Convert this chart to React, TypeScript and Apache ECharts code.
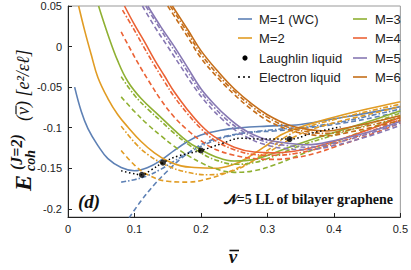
import React, { useEffect, useRef } from "react";
import * as echarts from "echarts";

// ---- data ----
const xTicks = ["0", "0.1", "0.2", "0.3", "0.4", "0.5"];
const yTicks = ["0.05", "0", "-0.05", "-0.1", "-0.15", "-0.2"];

const M1_solid = [[0.01,-0.05],[0.02,-0.08],[0.03,-0.101],[0.045,-0.122],[0.06,-0.138],[0.08,-0.149],[0.1,-0.153],[0.12,-0.149],[0.14,-0.14],[0.16,-0.128],[0.18,-0.117],[0.2,-0.109],[0.23,-0.103],[0.26,-0.1],[0.3,-0.098],[0.35,-0.096],[0.4,-0.089],[0.45,-0.082],[0.5,-0.074]];
const M1_dashdot = [[0.08,-0.167],[0.1,-0.164],[0.12,-0.159],[0.14,-0.151],[0.16,-0.141],[0.19,-0.127],[0.22,-0.116],[0.25,-0.109],[0.29,-0.104],[0.33,-0.101],[0.37,-0.098],[0.41,-0.093],[0.45,-0.086],[0.5,-0.077]];
const M1_dashed = [[0.092,-0.211],[0.11,-0.19],[0.13,-0.17],[0.15,-0.153],[0.17,-0.138],[0.19,-0.126],[0.21,-0.117],[0.24,-0.11],[0.27,-0.106],[0.31,-0.104],[0.35,-0.101],[0.4,-0.096],[0.45,-0.089],[0.5,-0.08]];

const M2_solid = [[0.016,0.05],[0.025,0.02],[0.035,-0.01],[0.045,-0.038],[0.06,-0.064],[0.075,-0.084],[0.09,-0.099],[0.11,-0.117],[0.13,-0.131],[0.15,-0.141],[0.17,-0.147],[0.19,-0.149],[0.22,-0.15],[0.25,-0.145],[0.27,-0.137],[0.3,-0.121],[0.32,-0.109],[0.35,-0.099],[0.37,-0.094],[0.4,-0.087],[0.45,-0.077],[0.5,-0.068]];
const M2_dashdot = [[0.08,-0.098],[0.1,-0.118],[0.12,-0.133],[0.15,-0.147],[0.18,-0.155],[0.21,-0.158],[0.24,-0.155],[0.27,-0.145],[0.3,-0.128],[0.33,-0.11],[0.36,-0.099],[0.4,-0.09],[0.45,-0.08],[0.5,-0.071]];
const M2_dashed = [[0.08,-0.128],[0.1,-0.146],[0.12,-0.158],[0.15,-0.166],[0.18,-0.167],[0.21,-0.163],[0.24,-0.155],[0.27,-0.144],[0.3,-0.131],[0.33,-0.116],[0.36,-0.104],[0.4,-0.094],[0.45,-0.084],[0.5,-0.074]];

const M3_solid = [[0.046,0.05],[0.06,0.015],[0.075,-0.018],[0.09,-0.043],[0.11,-0.064],[0.137,-0.085],[0.16,-0.103],[0.18,-0.117],[0.2,-0.127],[0.22,-0.135],[0.25,-0.141],[0.28,-0.139],[0.31,-0.131],[0.35,-0.119],[0.4,-0.106],[0.45,-0.093],[0.5,-0.079]];
const M3_dashdot = [[0.08,-0.037],[0.1,-0.06],[0.12,-0.077],[0.14,-0.092],[0.16,-0.107],[0.18,-0.12],[0.2,-0.131],[0.22,-0.139],[0.25,-0.145],[0.28,-0.143],[0.31,-0.135],[0.35,-0.122],[0.4,-0.109],[0.45,-0.096],[0.5,-0.082]];
const M3_dashed = [[0.08,-0.062],[0.1,-0.08],[0.12,-0.096],[0.14,-0.11],[0.16,-0.123],[0.18,-0.134],[0.2,-0.143],[0.22,-0.15],[0.25,-0.155],[0.28,-0.153],[0.31,-0.146],[0.35,-0.133],[0.4,-0.118],[0.45,-0.102],[0.5,-0.086]];

const M4_solid = [[0.085,0.05],[0.1,0.027],[0.115,0.006],[0.13,-0.016],[0.145,-0.036],[0.16,-0.056],[0.18,-0.078],[0.2,-0.097],[0.22,-0.111],[0.25,-0.124],[0.28,-0.13],[0.31,-0.131],[0.34,-0.129],[0.37,-0.124],[0.4,-0.117],[0.45,-0.103],[0.5,-0.087]];
const M4_dashdot = [[0.082,0.045],[0.1,0.02],[0.115,-0.002],[0.13,-0.023],[0.145,-0.043],[0.16,-0.062],[0.18,-0.083],[0.2,-0.101],[0.22,-0.115],[0.25,-0.127],[0.28,-0.133],[0.31,-0.134],[0.34,-0.132],[0.37,-0.127],[0.4,-0.12],[0.45,-0.106],[0.5,-0.09]];
const M4_dashed = [[0.08,0.018],[0.095,-0.005],[0.11,-0.027],[0.125,-0.047],[0.14,-0.066],[0.16,-0.087],[0.18,-0.103],[0.2,-0.116],[0.22,-0.126],[0.25,-0.134],[0.28,-0.138],[0.31,-0.139],[0.34,-0.137],[0.37,-0.132],[0.4,-0.124],[0.45,-0.11],[0.5,-0.094]];

const M5_solid = [[0.12,0.05],[0.14,0.024],[0.16,0.0],[0.18,-0.026],[0.2,-0.052],[0.22,-0.071],[0.24,-0.087],[0.26,-0.1],[0.28,-0.109],[0.3,-0.115],[0.33,-0.119],[0.36,-0.121],[0.4,-0.116],[0.45,-0.106],[0.5,-0.092]];
const M5_dashdot = [[0.117,0.05],[0.14,0.02],[0.16,-0.005],[0.18,-0.031],[0.2,-0.056],[0.22,-0.075],[0.24,-0.091],[0.26,-0.103],[0.28,-0.112],[0.3,-0.118],[0.33,-0.122],[0.36,-0.124],[0.4,-0.119],[0.45,-0.108],[0.5,-0.094]];
const M5_dashed = [[0.112,0.05],[0.13,0.025],[0.15,0.0],[0.17,-0.025],[0.19,-0.05],[0.21,-0.071],[0.23,-0.088],[0.25,-0.102],[0.27,-0.112],[0.29,-0.119],[0.32,-0.125],[0.36,-0.127],[0.4,-0.122],[0.45,-0.111],[0.5,-0.097]];

const M6_solid = [[0.157,0.05],[0.18,0.021],[0.2,-0.005],[0.227,-0.032],[0.25,-0.052],[0.277,-0.071],[0.3,-0.084],[0.33,-0.096],[0.36,-0.102],[0.39,-0.104],[0.42,-0.1],[0.46,-0.093],[0.5,-0.085]];
const M6_dashdot = [[0.154,0.05],[0.18,0.017],[0.2,-0.009],[0.227,-0.036],[0.25,-0.055],[0.277,-0.074],[0.3,-0.087],[0.33,-0.099],[0.36,-0.105],[0.39,-0.107],[0.42,-0.103],[0.46,-0.096],[0.5,-0.088]];
const M6_dashed = [[0.15,0.05],[0.18,0.012],[0.2,-0.014],[0.227,-0.04],[0.25,-0.059],[0.277,-0.078],[0.3,-0.091],[0.33,-0.102],[0.36,-0.108],[0.39,-0.11],[0.42,-0.106],[0.46,-0.099],[0.5,-0.091]];

const laughlin = [[1 / 9, -0.158], [1 / 7, -0.143], [1 / 5, -0.128], [1 / 3, -0.114]];
const electronLiquid = [[0.08,-0.153],[0.095,-0.156],[0.111,-0.158],[0.125,-0.152],[0.143,-0.143],[0.165,-0.135],[0.2,-0.128],[0.23,-0.12],[0.26,-0.113],[0.29,-0.114],[0.333,-0.114],[0.37,-0.106],[0.41,-0.099]];

const seriesNames = ["M=1 (WC)", "M=2", "M=3", "M=4", "M=5", "M=6"];
const colors = ["#5E81B5", "#E19C24", "#8FB032", "#EB6235", "#8778B3", "#C56E1A"];
const curves = [
  [M1_solid, M1_dashdot, M1_dashed],
  [M2_solid, M2_dashdot, M2_dashed],
  [M3_solid, M3_dashdot, M3_dashed],
  [M4_solid, M4_dashdot, M4_dashed],
  [M5_solid, M5_dashdot, M5_dashed],
  [M6_solid, M6_dashdot, M6_dashed],
];

const SANS = '"Liberation Sans", Arial, sans-serif';
const SERIF = '"Liberation Serif", "DejaVu Serif", serif';

export default function App() {
  const ref = useRef<HTMLDivElement>(null);
  useEffect(() => {
    if (!ref.current) return;
    const chart = echarts.init(ref.current, undefined, { renderer: "svg" });
    const dashes: any[] = ["solid", [5, 2, 1.5, 2], [5, 3]];
    const series: any[] = [];
    curves.forEach((group, i) => {
      group.forEach((d, k) => {
        series.push({
          type: "line",
          name: k === 0 ? seriesNames[i] : seriesNames[i] + (k === 1 ? " dd" : " da"),
          data: d,
          smooth: 0.4,
          showSymbol: false,
          symbol: "none",
          clip: true,
          lineStyle: { color: colors[i], width: 1.6, type: dashes[k] },
          z: 2,
        });
      });
    });
    series.push({
      type: "line",
      name: "Electron liquid",
      data: electronLiquid,
      smooth: 0.4,
      symbol: "none",
      lineStyle: { color: "#000", width: 1.5, type: [1.5, 2.5] },
      z: 3,
    });
    series.push({
      type: "scatter",
      name: "Laughlin liquid",
      data: laughlin,
      symbolSize: 6,
      itemStyle: { color: "#000" },
      z: 4,
    });

    const legendRows = [19, 38, 58, 77];
    const leftItems = [
      { text: "M=1 (WC)", kind: "line", color: colors[0] },
      { text: "M=2", kind: "line", color: colors[1] },
      { text: "Laughlin liquid", kind: "dot", color: "#000" },
      { text: "Electron liquid", kind: "dots", color: "#000" },
    ];
    const rightItems = [2, 3, 4, 5].map((i) => ({ text: seriesNames[i], kind: "line", color: colors[i] }));
    const legendEls: any[] = [];
    const addItem = (it: any, x0: number, tx: number, y: number) => {
      if (it.kind === "line") {
        legendEls.push({ type: "line", shape: { x1: x0, y1: y, x2: x0 + 14, y2: y }, style: { stroke: it.color, lineWidth: 1.6 } });
      } else if (it.kind === "dot") {
        legendEls.push({ type: "circle", shape: { cx: x0 + 7, cy: y, r: 2.6 }, style: { fill: "#000" } });
      } else {
        legendEls.push({ type: "line", shape: { x1: x0, y1: y, x2: x0 + 14, y2: y }, style: { stroke: "#000", lineWidth: 1.5, lineDash: [2, 3] } });
      }
      legendEls.push({ type: "text", style: { text: it.text, x: tx, y, font: `13px ${SANS}`, fill: "#222", textAlign: "left", textVerticalAlign: "middle", align: "left", verticalAlign: "middle" } });
    };
    leftItems.forEach((it, r) => addItem(it, 238, 259, legendRows[r]));
    rightItems.forEach((it, r) => addItem(it, 353, 375, legendRows[r]));

    const mathText = (text: string, x: number, y: number, size: number, extra = "bold italic") => ({
      type: "text",
      style: { text, x, y, font: `${extra} ${size}px ${SERIF}`, fill: "#111", textAlign: "left", textVerticalAlign: "middle", align: "left", verticalAlign: "middle" },
    });

    chart.setOption({
      animation: false,
      grid: { left: 68, right: 9, top: 6, bottom: 53, show: true, borderColor: "#999", borderWidth: 1, backgroundColor: "transparent" },
      xAxis: {
        type: "value",
        min: 0,
        max: 0.5,
        interval: 0.1,
        axisLine: { show: true, onZero: false, lineStyle: { color: "#222", width: 1 } },
        axisTick: { show: true, inside: true, length: 4, lineStyle: { color: "#222" } },
        splitLine: { show: false },
        axisLabel: { color: "#222", fontSize: 11, fontFamily: SANS, margin: 6, formatter: (v: number) => xTicks[Math.round(v * 10)] ?? "" },
      },
      yAxis: {
        type: "value",
        min: -0.21,
        max: 0.05,
        splitNumber: 5,
        axisLine: { show: true, onZero: false, lineStyle: { color: "#222", width: 1 } },
        axisTick: { show: true, inside: true, length: 4, lineStyle: { color: "#222" } },
        splitLine: { show: false },
        axisLabel: {
          color: "#222",
          fontSize: 11,
          fontFamily: SANS,
          margin: 6,
          showMinLabel: false,
          formatter: (v: number) => {
            const idx = Math.round((0.05 - v) / 0.05);
            if (Math.abs(0.05 - idx * 0.05 - v) > 1e-6) return "";
            return yTicks[idx] ?? "";
          },
        },
      },
      series,
      graphic: [
        ...legendEls,
        {
          type: "group",
          x: 23,
          y: 110,
          rotation: Math.PI / 2,
          children: [
            mathText("E", -81, 0, 24),
            mathText("(J=2)", -60, -7, 16),
            mathText("coh", -61, 7, 14),
            mathText("(ν) [e²/εℓ]", -11, 0, 18, "italic"),
            { type: "line", shape: { x1: -4, y1: -7, x2: 4.5, y2: -7 }, style: { stroke: "#111", lineWidth: 1.2 } },
          ],
        },
        { type: "text", style: { text: "ν", x: 233, y: 256, font: `bold italic 19px ${SERIF}`, fill: "#111", textAlign: "center", textVerticalAlign: "middle", align: "center", verticalAlign: "middle" } },
        { type: "line", shape: { x1: 229.5, y1: 250.5, x2: 239, y2: 250.5 }, style: { stroke: "#111", lineWidth: 1.6 } },
        { type: "text", style: { text: "(d)", x: 78, y: 201, font: `bold italic 19px ${SERIF}`, fill: "#111", textAlign: "left", textVerticalAlign: "middle", align: "left", verticalAlign: "middle" } },
        { type: "text", style: { text: "𝒩=5 LL of bilayer graphene", x: 393, y: 199, font: `bold 14px ${SERIF}`, fill: "#111", textAlign: "right", textVerticalAlign: "middle", align: "right", verticalAlign: "middle" } },
      ],
    });
    return () => chart.dispose();
  }, []);
  return <div ref={ref} style={{ width: 411, height: 270, position: "absolute", left: 0, top: 0 }} />;
}
